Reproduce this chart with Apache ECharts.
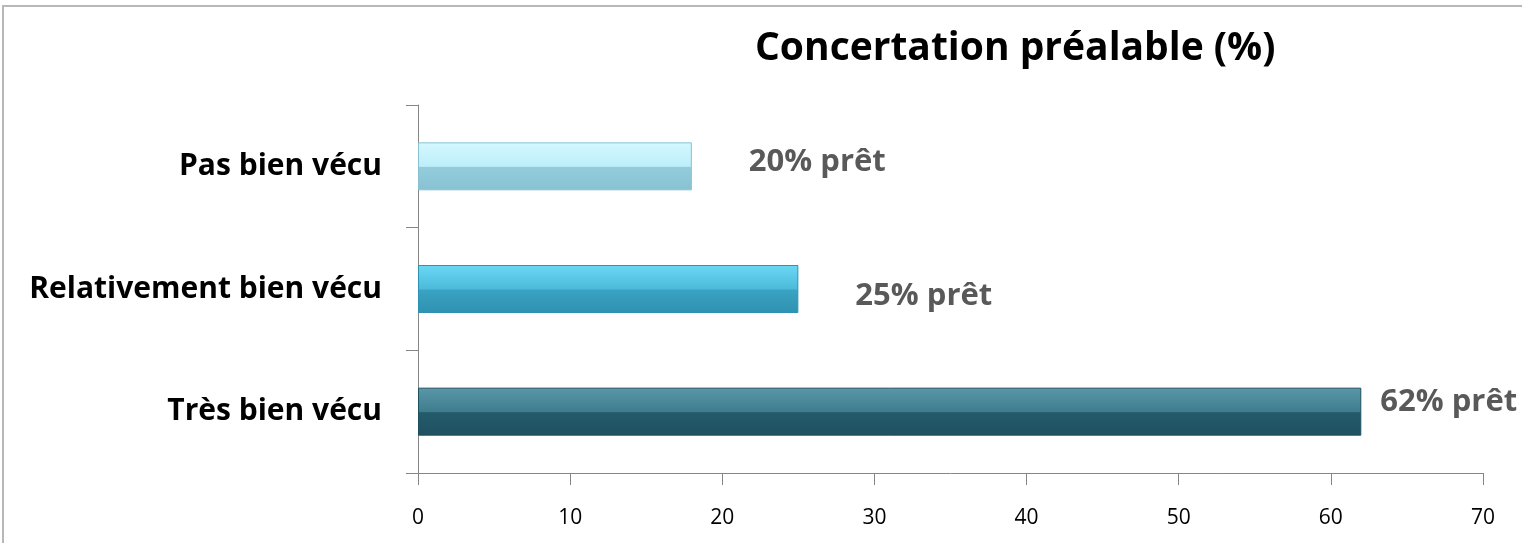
<!DOCTYPE html>
<html><head><meta charset="utf-8">
<script src="https://cdn.jsdelivr.net/npm/echarts@6/dist/echarts.min.js"></script>
<style>html,body{margin:0;padding:0;background:#fff}#c{width:1522px;height:543px}</style>
</head><body><div id="c"></div>
<script>
const categories = ['Très bien vécu', 'Relativement bien vécu', 'Pas bien vécu'];
const values = [62, 25, 18];
const barLabels = ['62% prêt', '25% prêt', '20% prêt'];
const xTicks = [0, 10, 20, 30, 40, 50, 60, 70];

const FONT = "'Liberation Sans Narrow', 'Open Sans', sans-serif";
const palettes = [
  ['#5a97a8', '#3f7d8e', '#245b6b', '#1f5060'],
  ['#6ad8f5', '#4cbada', '#3aa2c2', '#2f92b2'],
  ['#d4f8ff', '#bdeefa', '#93cddc', '#88c2d2']
];
const offsets = [[14, -9], [52, 7], [52, -4]];

const chart = echarts.init(document.getElementById('c'), null, {renderer: 'canvas'});
chart.setOption({
  animation: false,
  backgroundColor: '#ffffff',
  graphic: [{
    type: 'rect', shape: {x: 3, y: 6, width: 1530, height: 560},
    style: {fill: 'none', stroke: '#b8b8b8', lineWidth: 2}, silent: true
  }],
  title: {
    text: 'Concertation préalable (%)', left: 750, top: 24,
    textStyle: {fontFamily: FONT, fontSize: 39, fontWeight: 'bold', color: '#000'}
  },
  grid: {left: 418, right: 39, top: 105, bottom: 70, containLabel: false},
  xAxis: {
    type: 'value', min: xTicks[0], max: xTicks[xTicks.length - 1], interval: 10,
    axisLine: {show: true, lineStyle: {color: '#868686', width: 1}},
    axisTick: {show: true, length: 12, lineStyle: {color: '#868686'}},
    splitLine: {show: false},
    axisLabel: {fontFamily: FONT, fontSize: 21, color: '#000', margin: 35}
  },
  yAxis: {
    type: 'category', data: categories,
    axisLine: {show: true, lineStyle: {color: '#868686', width: 1}},
    axisTick: {show: true, length: 12, lineStyle: {color: '#868686'}},
    axisLabel: {fontFamily: FONT, fontSize: 30, fontWeight: 'bold', color: '#000', margin: 36}
  },
  series: [{
    type: 'bar', barWidth: 48,
    data: values.map((v, i) => ({
      value: v,
      itemStyle: {
        color: {type: 'linear', x: 0, y: 0, x2: 0, y2: 1, colorStops: [
          {offset: 0, color: palettes[i][0]},
          {offset: 0.5, color: palettes[i][1]},
          {offset: 0.52, color: palettes[i][2]},
          {offset: 1, color: palettes[i][3]}
        ]},
        borderColor: palettes[i][3], borderWidth: 1
      },
      label: {
        show: true, position: 'right', distance: 5, offset: offsets[i],
        formatter: () => barLabels[i],
        fontFamily: FONT, fontSize: 31, fontWeight: 'bold', color: '#595959'
      }
    }))
  }]
});
</script></body></html>
